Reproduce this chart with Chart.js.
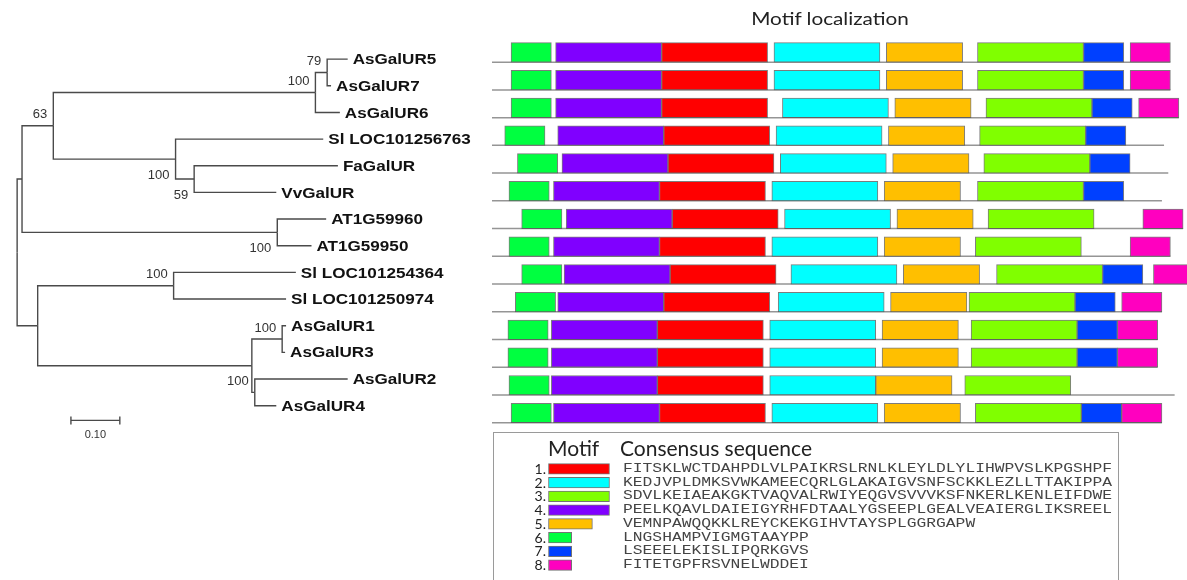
<!DOCTYPE html>
<html>
<head>
<meta charset="utf-8">
<title>Motif localization</title>
<script src="https://cdn.jsdelivr.net/npm/chart.js@4.4.1/dist/chart.umd.min.js"></script>
<style>
  html, body { margin: 0; padding: 0; background: #fff; }
  body { width: 1187px; height: 580px; position: relative; overflow: hidden; font-family: Lato, "Liberation Sans", sans-serif; }
  .abs { position: absolute; }
  #tree { left: 0; top: 0; }
  #motifs { left: 490px; top: 0; }
  #title { left: 730px; top: 7px; width: 200px; text-align: center; font-size: 18px; color: #222;
           transform: scaleX(1.15); transform-origin: center; }
  #legendBox { left: 493px; top: 432px; width: 626px; height: 170px; border: 1px solid #9a9a9a; box-sizing: border-box; }
  .head { top: 436px; font-size: 21px; line-height: 24px; color: #222; }
  #swatches { left: 548px; top: 462px; }
  #nums { left: 518px; top: 462px; width: 28px; text-align: right; }
  #nums div { height: 13.71px; line-height: 13.71px; font-size: 14px; color: #222; }
  #seqs { left: 623px; top: 462px; }
  #seqs div { height: 13.71px; line-height: 13.71px; font-family: "Liberation Mono", monospace; font-size: 13px;
              color: #444; white-space: pre; transform: scaleX(1.254); transform-origin: left center; }
</style>
</head>
<body>
<canvas id="tree" class="abs" width="490" height="460"></canvas>
<canvas id="motifs" class="abs" width="697" height="440"></canvas>
<div id="title" class="abs">Motif localization</div>
<div id="legendBox" class="abs"></div>
<div class="abs head" style="left:548px">Motif</div>
<div class="abs head" style="left:620px">Consensus sequence</div>
<div id="nums" class="abs"></div>
<canvas id="swatches" class="abs" width="70" height="110"></canvas>
<div id="seqs" class="abs"></div>

<script>
// ---- tree data ----
const leafNames = ['AsGalUR5', 'AsGalUR7', 'AsGalUR6', 'Sl LOC101256763', 'FaGalUR', 'VvGalUR',
                   'AT1G59960', 'AT1G59950', 'Sl LOC101254364', 'Sl LOC101250974',
                   'AsGalUR1', 'AsGalUR3', 'AsGalUR2', 'AsGalUR4'];
// distance from root to tip (substitutions per site)
const leafDepth = [0.676, 0.642, 0.660, 0.626, 0.656, 0.530, 0.632, 0.602, 0.570, 0.550, 0.550, 0.548, 0.676, 0.530];
const leafParent = [4, 4, 3, 5, 6, 6, 7, 7, 9, 9, 11, 11, 12, 12];

// internal nodes: 0 root, 1..12
const nodeParent  = [-1, 0, 1, 2, 3, 2, 5, 1, 0, 8, 8, 10, 10];
const nodeDepth   = [0, 0.010, 0.074, 0.610, 0.634, 0.324, 0.362, 0.532, 0.042, 0.320, 0.480, 0.542, 0.486];
const nodeSupport = ['', '', '63', '100', '79', '100', '59', '100', '', '100', '', '100', '100'];
const supportSide = ['', '', 'up', 'up', 'up', 'down', 'down', 'down', '', 'up', '', 'up', 'up'];

const scaleBarLength = 0.10;
const scaleBarStart = 0.11;

// ---- motif data ----
const motifLabels = ['1.', '2.', '3.', '4.', '5.', '6.', '7.', '8.'];
const motifColors = ['#ff0000', '#00ffff', '#80ff00', '#8000ff', '#ffbf00', '#00ff40', '#0040ff', '#ff00bf'];
const motifSeqs = [
  'FITSKLWCTDAHPDLVLPAIKRSLRNLKLEYLDLYLIHWPVSLKPGSHPF',
  'KEDJVPLDMKSVWKAMEECQRLGLAKAIGVSNFSCKKLEZLLTTAKIPPA',
  'SDVLKEIAEAKGKTVAQVALRWIYEQGVSVVVKSFNKERLKENLEIFDWE',
  'PEELKQAVLDAIEIGYRHFDTAALYGSEEPLGEALVEAIERGLIKSREEL',
  'VEMNPAWQQKKLREYCKEKGIHVTAYSPLGGRGAPW',
  'LNGSHAMPVIGMGTAAYPP',
  'LSEEELEKISLIPQRKGVS',
  'FITETGPFRSVNELWDDEI'
];
const motifLengths = motifSeqs.map(s => s.length);

// protein length (aa), same row order as the tree leaves
const proteinLength = [320, 320, 324, 317, 319, 316, 326, 320, 331, 316, 314, 314, 322, 316];

// start position (aa) of each motif in each protein, null = absent
const motif1Start = [80, 80, 80, 81, 83, 79, 85, 79, 84, 81, 78, 78, 78, 79];
const motif2Start = [133, 133, 137, 134, 136, 132, 138, 132, 141, 135, 131, 131, 131, 132];
const motif3Start = [229, 229, 233, 230, 232, 229, 234, 228, 238, 225, 226, 226, 223, 228];
const motif4Start = [30, 30, 30, 31, 33, 29, 35, 29, 34, 31, 28, 28, 28, 29];
const motif5Start = [186, 186, 190, 187, 189, 185, 191, 185, 194, 188, 184, 184, 181, 185];
const motif6Start = [9, 9, 9, 6, 12, 8, 14, 8, 14, 11, 7.5, 7.5, 8, 9];
const motif7Start = [279, 279, 283, 280, 282, 279, null, null, 288, 275, 276, 276, null, 278];
const motif8Start = [301, 301, 305, null, null, null, 307, 301, 312, 297, 295, 295, null, 297];
const motifStarts = [motif1Start, motif2Start, motif3Start, motif4Start,
                     motif5Start, motif6Start, motif7Start, motif8Start];

// ---- layout (pixels) ----
const rowTop = 52.4, rowStep = 27.74;        // motif rows
const leafTop = 55, leafStep = 27.3;         // tree leaves
const aaLeft = 2, aaPx = 2.12;               // motif x scale in its canvas
const treeLeft = 12, treePx = 500;           // tree x scale
const barH = 19.5;

function stretchText(ctx, text, x, y, sx, align) {
  ctx.save();
  ctx.translate(x, y);
  ctx.scale(sx, 1);
  ctx.textAlign = align;
  ctx.fillText(text, 0, 0);
  ctx.restore();
}

// ---------- tree ----------
const nodeY = new Array(nodeParent.length).fill(null);
function yOf(n) {
  if (nodeY[n] !== null) return nodeY[n];
  const ys = [];
  leafParent.forEach((p, i) => { if (p === n) ys.push(i); });
  nodeParent.forEach((p, j) => { if (p === n) ys.push(yOf(j)); });
  nodeY[n] = (Math.min(...ys) + Math.max(...ys)) / 2;
  return nodeY[n];
}
yOf(0);

const treeLine = { borderColor: '#4a4a4a', borderWidth: 1.4, pointRadius: 0, showLine: true, fill: false };
const treeSets = [];
leafParent.forEach((p, i) => {
  treeSets.push(Object.assign({ data: [
    { x: nodeDepth[p], y: nodeY[p] }, { x: nodeDepth[p], y: i }, { x: leafDepth[i], y: i }] }, treeLine));
});
nodeParent.forEach((p, j) => {
  if (p < 0) return;
  treeSets.push(Object.assign({ data: [
    { x: nodeDepth[p], y: nodeY[p] }, { x: nodeDepth[p], y: nodeY[j] }, { x: nodeDepth[j], y: nodeY[j] }] }, treeLine));
});
const treeCanvas = document.getElementById('tree');
const sbRow = (425 - leafTop) / leafStep;
treeSets.push({
  data: [{ x: scaleBarStart, y: sbRow }, { x: scaleBarStart + scaleBarLength, y: sbRow }],
  showLine: true, borderColor: '#4a4a4a', borderWidth: 1.4,
  pointStyle: 'line', rotation: 90, pointRadius: 4, pointBorderColor: '#4a4a4a', pointBorderWidth: 1.4
});

const treeText = {
  id: 'treeText',
  afterDatasetsDraw(chart) {
    const { ctx, scales: { x, y } } = chart;
    ctx.save();
    ctx.fillStyle = '#111';
    ctx.textBaseline = 'middle';
    ctx.font = 'bold 15px "Liberation Sans", Arial, sans-serif';
    leafNames.forEach((name, i) => {
      stretchText(ctx, name, x.getPixelForValue(leafDepth[i]) + 5, y.getPixelForValue(i) + 1, 1.14, 'left');
    });
    ctx.fillStyle = '#333';
    ctx.font = '13px "Liberation Sans", Arial, sans-serif';
    nodeSupport.forEach((s, n) => {
      if (!s) return;
      const px = x.getPixelForValue(nodeDepth[n]) - 6;
      const py = y.getPixelForValue(nodeY[n]) + (supportSide[n] === 'up' ? -11 : 16);
      stretchText(ctx, s, px, py, 1, 'right');
    });
    ctx.font = '11px "Liberation Sans", Arial, sans-serif';
    const cx = x.getPixelForValue(scaleBarStart + scaleBarLength / 2);
    stretchText(ctx, scaleBarLength.toFixed(2), cx, y.getPixelForValue(sbRow) + 15, 1, 'center');
    ctx.restore();
  }
};

new Chart(treeCanvas, {
  type: 'scatter',
  data: { datasets: treeSets },
  options: {
    responsive: false, animation: false,
    layout: { padding: 0 },
    plugins: { legend: { display: false }, tooltip: { enabled: false } },
    scales: {
      x: { type: 'linear', display: false, min: -treeLeft / treePx, max: (treeCanvas.width - treeLeft) / treePx },
      y: { type: 'linear', display: false, reverse: true,
           min: -leafTop / leafStep, max: (treeCanvas.height - leafTop) / leafStep }
    }
  },
  plugins: [treeText]
});

// ---------- motif localization ----------
const motifCanvas = document.getElementById('motifs');
const baseOff = (barH / 2) / rowStep;
const baseSets = proteinLength.map((len, i) => ({
  type: 'line', order: 2,
  data: [{ x: 0, y: i + baseOff }, { x: len, y: i + baseOff }],
  borderColor: '#959595', borderWidth: 1.5, pointRadius: 0, fill: false
}));
const barSets = motifStarts.map((starts, k) => ({
  type: 'bar', order: 1, indexAxis: 'y', grouped: false,
  data: starts.map((s, i) => s === null ? null : { x: [s, s + motifLengths[k]], y: i }).filter(d => d),
  backgroundColor: motifColors[k],
  borderColor: 'rgba(80,80,80,0.75)', borderWidth: 1, borderSkipped: false,
  barThickness: barH
}));

new Chart(motifCanvas, {
  data: { datasets: baseSets.concat(barSets) },
  options: {
    responsive: false, animation: false,
    layout: { padding: 0 },
    plugins: { legend: { display: false }, tooltip: { enabled: false } },
    scales: {
      x: { type: 'linear', display: false, offset: false,
           min: -aaLeft / aaPx, max: (motifCanvas.width - aaLeft) / aaPx },
      y: { type: 'linear', display: false, reverse: true, offset: false,
           min: -rowTop / rowStep, max: (motifCanvas.height - rowTop) / rowStep }
    }
  }
});

// ---------- legend ----------
const numBox = document.getElementById('nums');
const seqBox = document.getElementById('seqs');
motifSeqs.forEach((s, k) => {
  const n = document.createElement('div');
  n.textContent = motifLabels[k];
  numBox.appendChild(n);
  const d = document.createElement('div');
  d.textContent = s;
  seqBox.appendChild(d);
});

new Chart(document.getElementById('swatches'), {
  type: 'bar',
  data: {
    datasets: [{
      indexAxis: 'y', grouped: false,
      data: motifLengths.map((len, k) => ({ x: [0, len], y: k })),
      backgroundColor: motifColors,
      borderColor: 'rgba(80,80,80,0.8)', borderWidth: 1, borderSkipped: false,
      barThickness: 10.5
    }]
  },
  options: {
    indexAxis: 'y', responsive: false, animation: false,
    layout: { padding: 0 },
    plugins: { legend: { display: false }, tooltip: { enabled: false } },
    scales: {
      x: { type: 'linear', display: false, offset: false, min: -0.4, max: 70 / 1.22 - 0.4 },
      y: { type: 'linear', display: false, reverse: true, offset: false, min: -0.5, max: 7.5 }
    }
  }
});
</script>
</body>
</html>
